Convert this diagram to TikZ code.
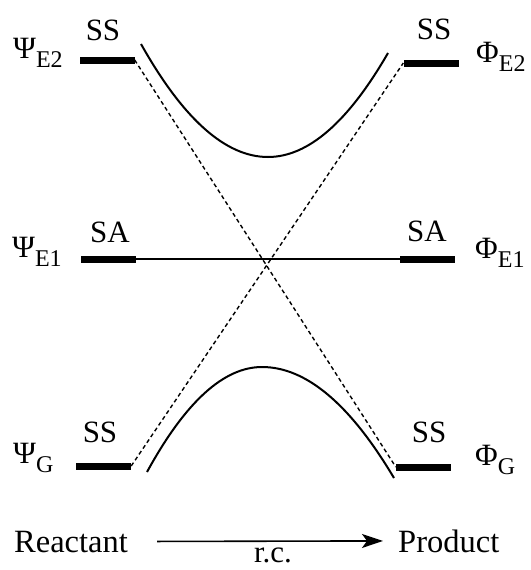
\documentclass[tikz,border=0pt]{standalone}
\usepackage{fontspec}
\setmainfont{Liberation Serif}
\usetikzlibrary{arrows.meta}
\tikzset{
  lvl/.style={fill=black,minimum width=55pt,minimum height=7pt,inner sep=0pt},
  lbl/.style={font=\fontsize{31}{31}\selectfont,inner sep=0pt},
  dia/.style={dash pattern=on 4pt off 3pt,line width=1.4pt},
  crv/.style={line width=2pt},
  ar/.style={-{Stealth[length=21pt,width=14pt,inset=5pt]},line width=1.6pt}
}
\newcommand{\stlab}[2]{#1\raisebox{-0.3em}{\fontsize{24}{24}\selectfont #2}}

\begin{document}
\begin{tikzpicture}[x=1pt,y=-1pt]
\useasboundingbox (0,0) rectangle (530,570);

% levels
\node[lvl] (lE2) at (107,60) {};
\node[lvl] (lE1) at (108,259) {};
\node[lvl] (lG) at (103.5,466) {};
\node[lvl] (rE2) at (431,63) {};
\node[lvl] (rE1) at (427.5,259) {};
\node[lvl] (rG) at (423.5,467) {};

% state labels
\node[lbl,anchor=base west] (psiE2) at (13,58) {\stlab{Ψ}{E2}};
\node[lbl,anchor=base west] (psiE1) at (12,257) {\stlab{Ψ}{E1}};
\node[lbl,anchor=base west] (psiG) at (13,463) {\stlab{Ψ}{G}};
\node[lbl,anchor=base west] (phiE2) at (476,62) {\stlab{Φ}{E2}};
\node[lbl,anchor=base west] (phiE1) at (475,258) {\stlab{Φ}{E1}};
\node[lbl,anchor=base west] (phiG) at (475,465) {\stlab{Φ}{G}};

\node[lbl,anchor=base] (ssl2) at (103,40) {SS};
\node[lbl,anchor=base] (ssr2) at (434,39) {SS};
\node[lbl,anchor=base] (sal) at (110,242) {SA};
\node[lbl,anchor=base] (sar) at (427,241) {SA};
\node[lbl,anchor=base] (sslg) at (100,442) {SS};
\node[lbl,anchor=base] (ssrg) at (429,442) {SS};

% diabatic and adiabatic curves
\draw[dia] (lE2.east) -- (rG.west);
\draw[dia] (lG.east) -- (rE2.west);
\draw[line width=1.6pt] (lE1.east) -- (rE1.west);
\draw[crv] (141,44) .. controls (183.3,119.3) and (225.7,157) .. (268,157)
  .. controls (308,157) and (348,122.3) .. (388,53);
\draw[crv] (147,472) .. controls (185.3,402) and (223.7,367) .. (262,367)
  .. controls (306,367) and (350,404) .. (394,478);

% reaction coordinate
\node[lbl,anchor=base west,font=\fontsize{32.5}{32.5}\selectfont] (react) at (14,552) {Reactant};
\node[lbl,anchor=base west,font=\fontsize{32.5}{32.5}\selectfont] (prod) at (398,552) {Product};
\draw[ar,shorten <=29pt,shorten >=15pt] (react.east) -- (prod.west);
\node[lbl,anchor=base] (rc) at (273,562) {r.c.};
\end{tikzpicture}
\end{document}
